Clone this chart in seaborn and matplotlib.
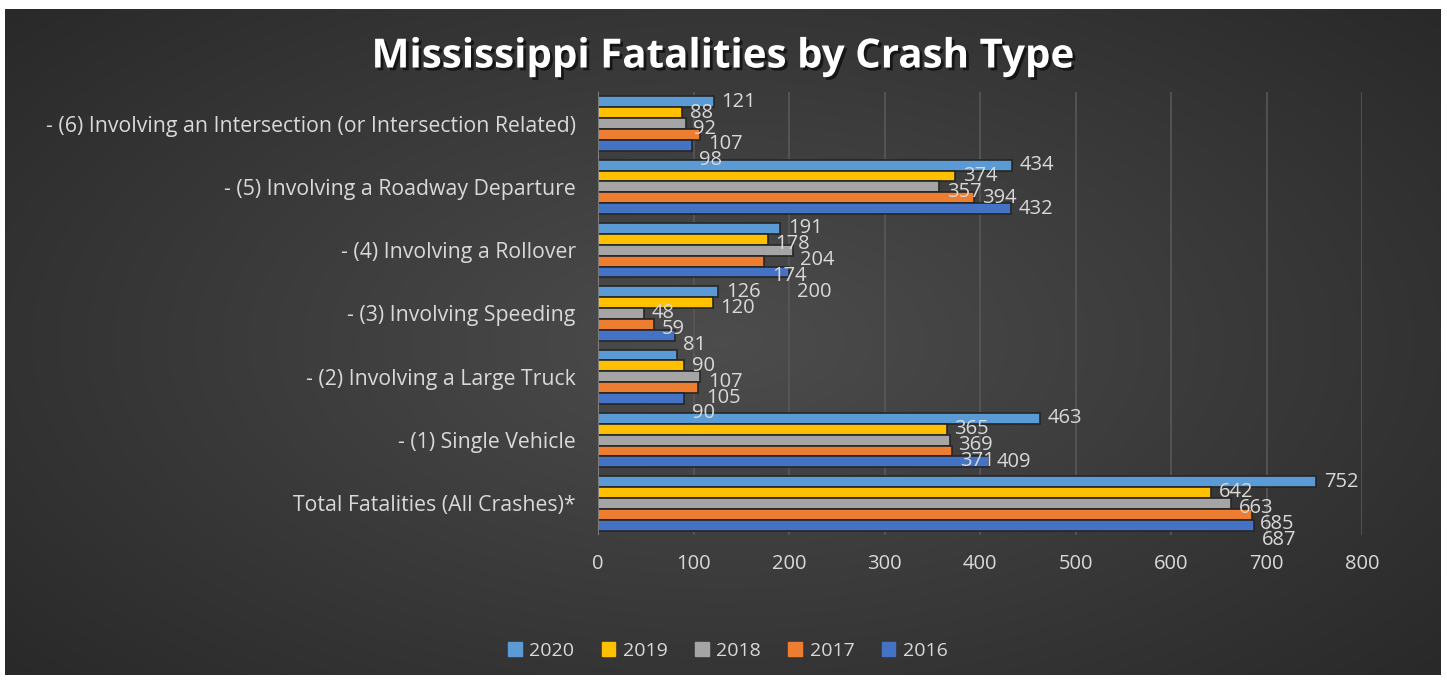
import numpy as np
import pandas as pd
import matplotlib
matplotlib.use("Agg")
import matplotlib.pyplot as plt
import matplotlib.patheffects as pe
import seaborn as sns

# categories top -> bottom
categories = ["- (6) Involving an Intersection (or Intersection Related)",
              "- (5) Involving a Roadway Departure",
              "- (4) Involving a Rollover",
              "- (3) Involving Speeding",
              "- (2) Involving a Large Truck",
              "- (1) Single Vehicle",
              "Total Fatalities (All Crashes)*"]
years = ["2020", "2019", "2018", "2017", "2016"]
v2020 = [121, 434, 191, 126, 83, 463, 752]
v2019 = [88, 374, 178, 120, 90, 365, 642]
v2018 = [92, 357, 204, 48, 107, 369, 663]
v2017 = [107, 394, 174, 59, 105, 371, 685]
v2016 = [98, 432, 200, 81, 90, 409, 687]
colors = ["#5B9BD5", "#FFC000", "#A5A5A5", "#ED7D31", "#4472C4"]

rows = []
for yr, vals in zip(years, [v2020, v2019, v2018, v2017, v2016]):
    for c, v in zip(categories, vals):
        rows.append({"cat": c, "year": yr, "val": v})
df = pd.DataFrame(rows)

sns.set_style("dark")
plt.rcParams['font.family'] = ['Open Sans', 'DejaVu Sans']
txt = "#d9d9d9"

fig = plt.figure(figsize=(14.47, 6.83), dpi=100)
fig.patch.set_facecolor("white")

# radial gradient background
bg = fig.add_axes([0.0035, 0.012, 0.9918, 0.975])
yy, xx = np.mgrid[-1:1:300j, -1:1:600j]
r = np.sqrt((xx * 0.9) ** 2 + (yy * 0.8) ** 2)
shade = 0.30 - 0.15 * np.clip(r, 0, 1.3) / 1.3
img = np.dstack([shade, shade, shade])
bg.imshow(img, aspect="auto", extent=[0, 1, 0, 1])
bg.axis("off")

ax = fig.add_axes([598 / 1447, 1 - 535 / 683, (1362 - 598) / 1447, (535 - 92) / 683])
ax.set_facecolor("none")
sns.barplot(data=df, y="cat", x="val", hue="year", order=categories,
            hue_order=years, palette=colors, orient="h", width=0.86,
            edgecolor="#262626", linewidth=1.2, saturation=1, ax=ax)

ax.set_xlim(0, 800)
ax.set_xticks(range(0, 801, 100))
ax.grid(axis="x", color="#585858", linewidth=1.2)
ax.grid(axis="y", visible=False)
ax.set_axisbelow(True)
for s in ax.spines.values():
    s.set_visible(False)
ax.axvline(0, color="#8a8a8a", linewidth=1.2)
ax.tick_params(axis="both", colors=txt, labelsize=14.5, length=0)
ax.tick_params(axis="y", labelsize=15.3, pad=16)
ax.tick_params(axis="x", pad=14)
ax.set_xlabel("")
ax.set_ylabel("")
ax.legend_.remove()

# data labels, nudged down when they would collide (like Excel does)
unit_h = 0.25    # text height in data units
char_w = 12.0    # width of one digit in data units
placed = {j: [] for j in range(len(categories))}
for i, cont in enumerate(ax.containers):
    for j, bar in enumerate(cont):
        if years[i] == "2020" and categories[j] == "- (2) Involving a Large Truck":
            continue
        w = bar.get_width()
        s = str(int(w))
        x0 = w + 8
        x1 = x0 + char_w * len(s)
        y = bar.get_y() + bar.get_height() / 2
        for _ in range(10):
            hit = [ay for (a0, a1, ay) in placed[j]
                   if x0 < a1 and x1 > a0 and abs(y - ay) < unit_h - 1e-6]
            if not hit:
                break
            y = max(hit) + unit_h
        placed[j].append((x0, x1, y))
        ax.text(x0, y, s, color=txt, fontsize=14.5, va="center", ha="left")

handles = [plt.Rectangle((0, 0), 1, 1, color=c) for c in colors]
fig.legend(handles, years, loc="center", bbox_to_anchor=(728 / 1447, 1 - 651 / 683),
           ncol=5, frameon=False, fontsize=14, labelcolor=txt,
           handlelength=0.7, handleheight=0.7, handletextpad=0.4, columnspacing=1.4)

fig.text(722 / 1447, 1 - 57 / 683, "Mississippi Fatalities by Crash Type",
         ha="center", va="center", fontsize=29, fontweight="bold", color="white",
         path_effects=[pe.withSimplePatchShadow(offset=(2, -2), shadow_rgbFace="black", alpha=0.6)])

fig.savefig("out.png", dpi=100, facecolor=fig.get_facecolor())
